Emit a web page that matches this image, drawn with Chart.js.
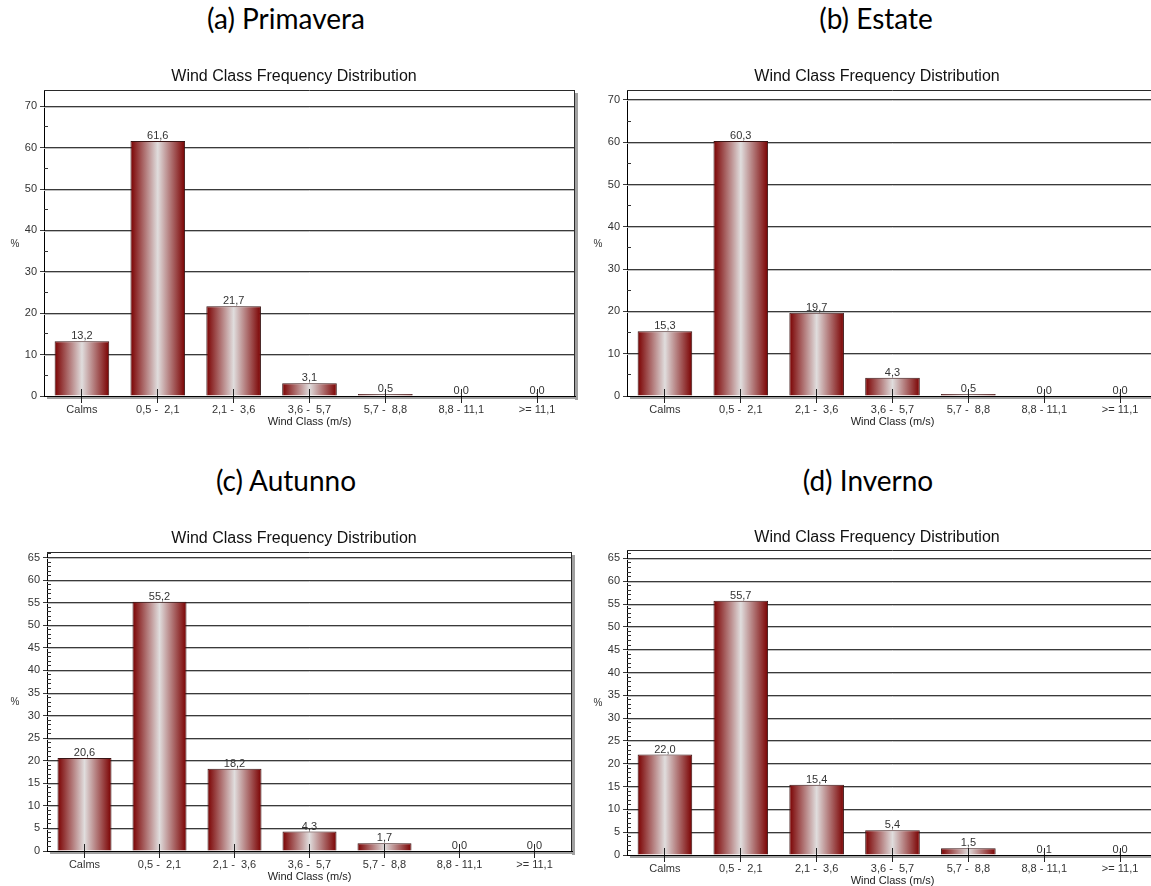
<!DOCTYPE html>
<html>
<head>
<meta charset="utf-8">
<script src="https://cdn.jsdelivr.net/npm/chart.js@4/dist/chart.umd.min.js"></script>
<style>
  html, body { margin: 0; padding: 0; background: #fff; width: 1151px; height: 886px; overflow: hidden; position: relative; }
  .head { position: absolute; width: 580px; text-align: center; font-family: Lato, "Open Sans", sans-serif; font-size: 28px; line-height: 30px; color: #000; }
  .box { position: absolute; }
  canvas { display: block; }
</style>
</head>
<body>
<div class="head" style="left:-4px; top:3px">(a) Primavera</div>
<div class="head" style="left:586px; top:3px">(b) Estate</div>
<div class="head" style="left:-4px; top:465px">(c) Autunno</div>
<div class="head" style="left:578px; top:465px">(d) Inverno</div>

<div class="box" style="left:0; top:60px"><canvas id="cA" width="580" height="380"></canvas></div>
<div class="box" style="left:583px; top:60px"><canvas id="cB" width="580" height="380"></canvas></div>
<div class="box" style="left:0; top:522px"><canvas id="cC" width="580" height="373"></canvas></div>
<div class="box" style="left:583px; top:520px"><canvas id="cD" width="580" height="379"></canvas></div>

<script>
// Wind speed classes (m/s)
const windClasses = ['Calms', '0,5 -  2,1', '2,1 -  3,6', '3,6 -  5,7', '5,7 -  8,8', '8,8 - 11,1', '>= 11,1'];

// Frequency (%) per class, one array per season
const spring = [13.2, 61.6, 21.7, 3.1, 0.5, 0.0, 0.0];
const summer = [15.3, 60.3, 19.7, 4.3, 0.5, 0.0, 0.0];
const autumn = [20.6, 55.2, 18.2, 4.3, 1.7, 0.0, 0.0];
const winter = [22.0, 55.7, 15.4, 5.4, 1.5, 0.1, 0.0];

// Y axis steps: major (labelled) and minor tick spacing
const stepsSpringSummer = [10, 5];
const stepsAutumnWinter = [5, 1];

const chartTitle = 'Wind Class Frequency Distribution';
const xAxisTitle = 'Wind Class (m/s)';
const yAxisTitle = '%';

const FONT = '"Liberation Sans", Arial, sans-serif';
const BAR_PCT = 0.72;
const fmt = v => v.toFixed(1).replace('.', ',');

function makeGradient(ctx, left, right) {
  const g = ctx.createLinearGradient(left, 0, right, 0);
  g.addColorStop(0, '#7a0000');
  g.addColorStop(0.5, '#e0dddd');
  g.addColorStop(1, '#7a0000');
  return g;
}

// Frame, shaded edges, minor ticks, value labels and titles
const deco = {
  id: 'deco',
  beforeDraw(chart) {
    const { ctx, chartArea: a } = chart;
    ctx.save();
    ctx.fillStyle = '#a0a0a0';
    ctx.fillRect(a.right, a.top + 3, 3, a.bottom - a.top + 1);
    ctx.fillRect(a.left + 3, a.bottom, a.right - a.left, 3);
    ctx.restore();
  },
  beforeDatasetsDraw(chart) {
    const { ctx, chartArea: a, scales: { y } } = chart;
    ctx.save();
    ctx.strokeStyle = '#bdbdbd';
    ctx.lineWidth = 1;
    y.ticks.forEach(t => {
      if (t.value === 0) return;
      const py = Math.round(y.getPixelForValue(t.value) - 0.5) + 1.5;
      ctx.beginPath(); ctx.moveTo(a.left, py); ctx.lineTo(a.right, py); ctx.stroke();
    });
    ctx.restore();
    // horizontal shading of each bar
    chart.getDatasetMeta(0).data.forEach(bar => {
      if (isFinite(bar.x) && isFinite(bar.width) && bar.width > 0) {
        bar.options.backgroundColor = makeGradient(ctx, bar.x - bar.width / 2, bar.x + bar.width / 2);
      }
    });
  },
  afterDatasetsDraw(chart, args, opts) {
    const { ctx, chartArea: a, scales: { x, y } } = chart;
    ctx.save();
    ctx.lineWidth = 1;

    // top and right frame lines
    ctx.strokeStyle = '#2a2a2a';
    ctx.beginPath();
    ctx.moveTo(a.left, a.top + 0.5); ctx.lineTo(a.right, a.top + 0.5);
    ctx.moveTo(Math.round(a.right) - 0.5, a.top); ctx.lineTo(Math.round(a.right) - 0.5, a.bottom);
    ctx.stroke();

    // minor ticks on the inside of the value axis
    ctx.strokeStyle = '#333';
    const [major, minor] = opts.steps;
    for (let k = 1; k * minor <= y.max; k++) {
      const v = k * minor;
      if (v % major === 0) continue;
      const py = Math.round(y.getPixelForValue(v) - 0.5) + 0.5;
      ctx.beginPath(); ctx.moveTo(a.left, py); ctx.lineTo(a.left + 4, py); ctx.stroke();
    }

    // category ticks reaching into the plot
    ctx.strokeStyle = '#222';
    windClasses.forEach((c, i) => {
      const px = Math.round(x.getPixelForTick(i) - 0.5) + 0.5;
      ctx.beginPath(); ctx.moveTo(px, a.bottom - 7); ctx.lineTo(px, a.bottom); ctx.stroke();
    });

    // value labels above the bars
    const vals = chart.data.datasets[0].data;
    ctx.fillStyle = '#333';
    ctx.font = '11px ' + FONT;
    ctx.textAlign = 'center';
    ctx.textBaseline = 'alphabetic';
    chart.getDatasetMeta(0).data.forEach((bar, i) => {
      ctx.fillText(fmt(vals[i]), bar.x, bar.y - 2);
    });

    // "%" label beside the value axis
    ctx.font = '10px ' + FONT;
    ctx.textBaseline = 'middle';
    ctx.fillText(yAxisTitle, 15, (a.top + a.bottom) / 2 + 1);

    // chart title
    ctx.fillStyle = '#111';
    ctx.font = '16px ' + FONT;
    ctx.fillText(chartTitle, opts.titleX, opts.titleY);
    ctx.restore();
  }
};

function drawSeason(id, values, steps, axisWidth, padRight, titleY) {
  new Chart(document.getElementById(id), {
    type: 'bar',
    data: {
      labels: windClasses,
      datasets: [{
        data: values,
        // scriptable so every bar keeps its own options object
        backgroundColor: () => '#7a0000',
        borderColor: '#3a1414',
        borderWidth: 1,
        barPercentage: BAR_PCT,
        categoryPercentage: 1
      }]
    },
    plugins: [deco],
    options: {
      responsive: false,
      animation: false,
      events: [],
      layout: { padding: { top: 30, left: 0, right: padRight, bottom: 0 } },
      plugins: {
        legend: { display: false },
        tooltip: { enabled: false },
        title: { display: false },
        deco: { steps: steps, titleX: 294, titleY: titleY }
      },
      scales: {
        x: {
          offset: true,
          grid: { display: true, drawOnChartArea: false, offset: false, tickLength: 7, color: '#222' },
          border: { display: true, color: '#000', width: 1 },
          ticks: { autoSkip: false, maxRotation: 0, padding: 0, color: '#333', font: { family: FONT, size: 11 } },
          title: { display: true, text: xAxisTitle, color: '#222', font: { family: FONT, size: 11 }, padding: { top: 0, bottom: 11 } },
          afterFit(s) { s.height = 44; }
        },
        y: {
          min: 0,
          max: Math.max(...values) * 1.2,
          grid: { color: '#3a3a3a', lineWidth: 1, tickLength: 4 },
          border: { display: true, color: '#000', width: 1 },
          ticks: { stepSize: steps[0], includeBounds: false, padding: 3, color: '#333', font: { family: FONT, size: 11 }, callback: v => String(v) },
          afterFit(s) { s.width = axisWidth; }
        }
      }
    }
  });
}

drawSeason('cA', spring, stepsSpringSummer, 44, 5, 17);
drawSeason('cB', summer, stepsSpringSummer, 44, 5, 17);
drawSeason('cC', autumn, stepsAutumnWinter, 47, 8, 17);
drawSeason('cD', winter, stepsAutumnWinter, 44, 5, 18);
</script>
</body>
</html>
